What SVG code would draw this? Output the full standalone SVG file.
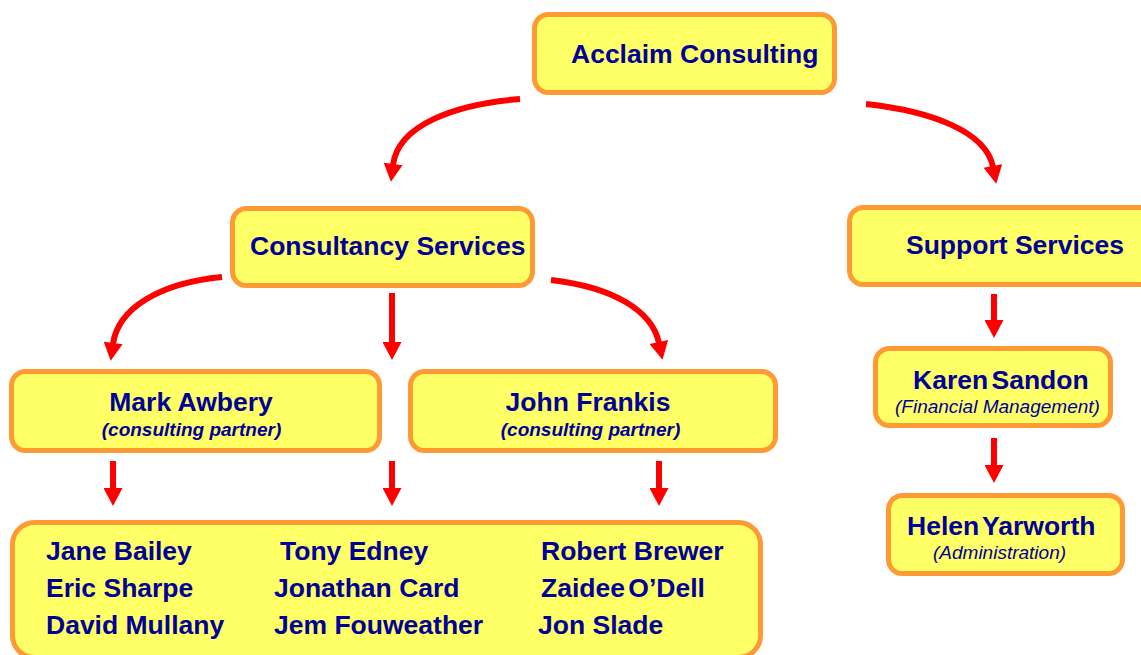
<svg xmlns="http://www.w3.org/2000/svg" width="1141" height="655" viewBox="0 0 1141 655">
<defs>
<style>
.box{fill:#FFFF66;stroke:#FF9933;stroke-width:5}
.t{font-family:"Liberation Sans",Arial,sans-serif;font-weight:bold;font-size:26.5px;fill:#000099}
.tight{word-spacing:-4px}
.s{font-family:"Liberation Sans",Arial,sans-serif;font-weight:bold;font-style:italic;font-size:19px;fill:#000099}
.r{font-family:"Liberation Sans",Arial,sans-serif;font-style:italic;font-size:19px;fill:#000099}
.c{fill:none;stroke:#FF0000;stroke-width:6;marker-end:url(#ah)}
</style>
<marker id="ah" markerUnits="userSpaceOnUse" markerWidth="19" markerHeight="19" viewBox="0 0 18 19" refX="1" refY="9.5" orient="auto">
<path d="M0,0 L18,9.5 L0,19 z" fill="#FF0000"/>
</marker>
</defs>
<rect width="1141" height="655" fill="#FFFFFF"/>
<g id="connectors">
<path class="c" d="M520,99 C455,104 398,125 393,165"/>
<path class="c" d="M866,104 C930,111 986,131 993,167"/>
<path class="c" d="M222,277 C160,283 118,308 113,344"/>
<path class="c" d="M551,280 C612,287 652,310 659,343"/>
<path class="c" d="M392,293 V343"/>
<path class="c" d="M994,294 V321"/>
<path class="c" d="M994,438 V466"/>
<path class="c" d="M113,461 V489"/>
<path class="c" d="M392,461 V489"/>
<path class="c" d="M659,461 V489"/>
</g>
<g id="acclaim">
<rect class="box" x="534.5" y="14.5" width="300" height="78" rx="14"/>
<text class="t" x="571" y="63">Acclaim Consulting</text>
</g>
<g id="consultancy">
<rect class="box" x="232.5" y="208.5" width="300" height="77" rx="14"/>
<text class="t" x="250" y="255">Consultancy Services</text>
</g>
<g id="support">
<rect class="box" x="849.5" y="207.5" width="310" height="77" rx="14"/>
<text class="t" x="906" y="254">Support Services</text>
</g>
<g id="mark">
<rect class="box" x="11.5" y="371.5" width="368" height="79" rx="14"/>
<text class="t" x="191" y="411" text-anchor="middle">Mark Awbery</text>
<text class="s" x="191.5" y="436" text-anchor="middle">(consulting partner)</text>
</g>
<g id="john">
<rect class="box" x="410.5" y="371.5" width="365" height="79" rx="14"/>
<text class="t" x="588" y="411" text-anchor="middle">John Frankis</text>
<text class="s" x="590.5" y="436" text-anchor="middle">(consulting partner)</text>
</g>
<g id="karen">
<rect class="box" x="875.5" y="348.5" width="235" height="77" rx="14"/>
<text class="t tight" x="913" y="389">Karen Sandon</text>
<text class="r" x="895" y="413">(Financial Management)</text>
</g>
<g id="helen">
<rect class="box" x="888.5" y="495.5" width="234" height="78" rx="14"/>
<text class="t tight" x="907" y="535">Helen Yarworth</text>
<text class="r" x="933" y="559">(Administration)</text>
</g>
<g id="staff">
<rect class="box" x="12.5" y="522.5" width="748" height="135" rx="22"/>
<text class="t" x="46" y="560">Jane Bailey</text>
<text class="t" x="46" y="597">Eric Sharpe</text>
<text class="t" x="46" y="634">David Mullany</text>
<text class="t" x="280" y="560">Tony Edney</text>
<text class="t" x="274" y="597">Jonathan Card</text>
<text class="t" x="274" y="634">Jem Fouweather</text>
<text class="t" x="541" y="560">Robert Brewer</text>
<text class="t tight" x="541" y="597">Zaidee O’Dell</text>
<text class="t" x="538" y="634">Jon Slade</text>
</g>
</svg>
